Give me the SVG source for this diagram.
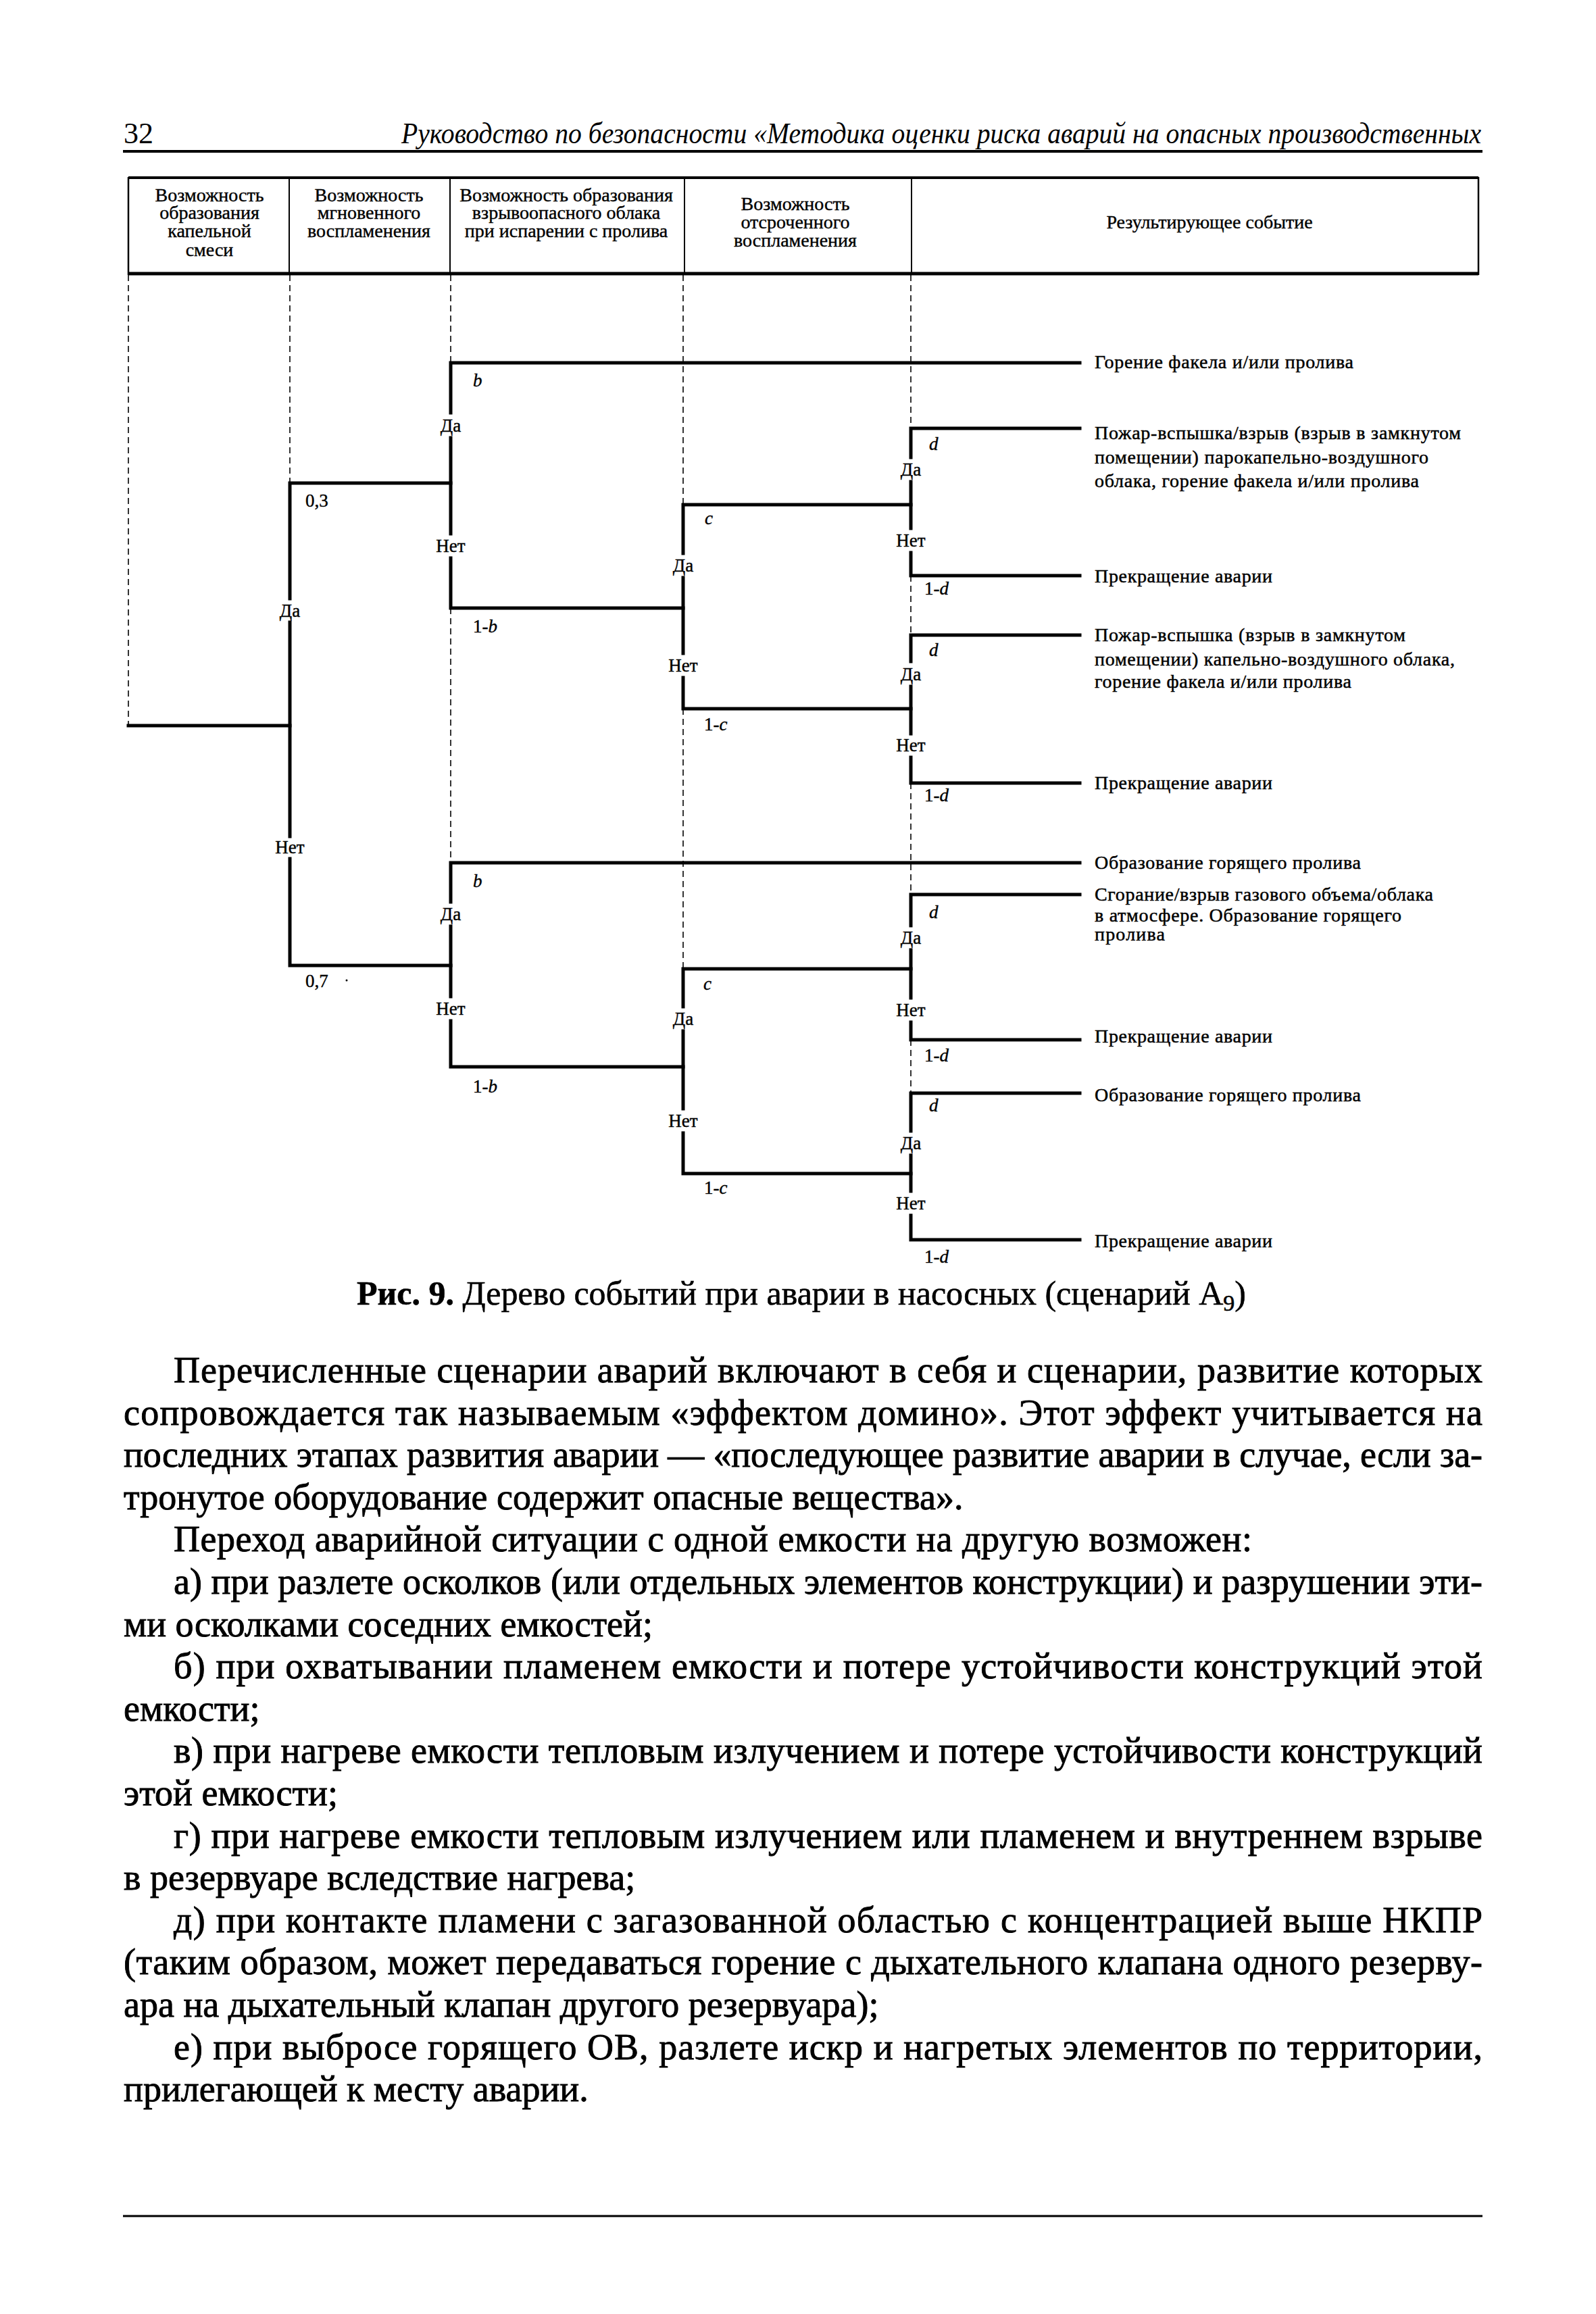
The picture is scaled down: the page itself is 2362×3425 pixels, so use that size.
<svg xmlns="http://www.w3.org/2000/svg" width="2362" height="3425" viewBox="0 0 2362 3425">
<style>
text{font-family:"Liberation Serif","DejaVu Serif",serif;fill:#000}
.hdr{font-size:44px}
.th{font-size:28px;text-anchor:middle;stroke:#000;stroke-width:0.4}
.lbl{font-size:27px;text-anchor:middle;stroke:#000;stroke-width:0.4}
.prob{font-size:27px;stroke:#000;stroke-width:0.4}
.it{font-style:italic}
.out{font-size:28px;stroke:#000;stroke-width:0.5}
.body{font-size:54px;stroke:#000;stroke-width:0.9}
.solid{fill:none;stroke:#000;stroke-width:5;stroke-linejoin:miter;stroke-linecap:square}
.dash{fill:none;stroke:#000;stroke-width:1.6;stroke-dasharray:9 6}
.tb{stroke:#000;fill:none}
</style>
<rect width="2362" height="3425" fill="#fff"/>

<g id="page-header">
<text class="hdr" x="183" y="212">32</text>
<text class="hdr it" x="594" y="212" textLength="1598" lengthAdjust="spacingAndGlyphs">Руководство по безопасности «Методика оценки риска аварий на опасных производственных</text>
<line x1="182" y1="224" x2="2194" y2="224" stroke="#000" stroke-width="4"/>
</g>

<g id="table-header">
<line class="tb" x1="190" y1="263" x2="2188" y2="263" stroke-width="4"/>
<line class="tb" x1="190" y1="405" x2="2188" y2="405" stroke-width="5"/>
<line class="tb" x1="190" y1="262" x2="190" y2="407" stroke-width="2.5"/>
<line class="tb" x1="2188" y1="262" x2="2188" y2="407" stroke-width="2.5"/>
<line class="tb" x1="428" y1="262" x2="428" y2="407" stroke-width="2"/>
<line class="tb" x1="666" y1="262" x2="666" y2="407" stroke-width="2"/>
<line class="tb" x1="1013" y1="262" x2="1013" y2="407" stroke-width="2"/>
<line class="tb" x1="1349" y1="262" x2="1349" y2="407" stroke-width="2"/>
<g id="col1"><text class="th" x="310" y="298">Возможность</text><text class="th" x="310" y="324">образования</text><text class="th" x="310" y="351">капельной</text><text class="th" x="310" y="379">смеси</text></g>
<g id="col2"><text class="th" x="546" y="298">Возможность</text><text class="th" x="546" y="324">мгновенного</text><text class="th" x="546" y="351">воспламенения</text></g>
<g id="col3"><text class="th" x="838" y="298">Возможность образования</text><text class="th" x="838" y="324">взрывоопасного облака</text><text class="th" x="838" y="351">при испарении с пролива</text></g>
<g id="col4"><text class="th" x="1177" y="311">Возможность</text><text class="th" x="1177" y="338">отсроченного</text><text class="th" x="1177" y="365">воспламенения</text></g>
<g id="col5"><text class="th" x="1790" y="338">Результирующее событие</text></g>
</g>

<g id="guides">
<line class="dash" x1="190" y1="407" x2="190" y2="1074"/>
<line class="dash" x1="429" y1="407" x2="429" y2="715"/>
<line class="dash" x1="667" y1="407" x2="667" y2="537"/>
<line class="dash" x1="667" y1="900" x2="667" y2="1277"/>
<line class="dash" x1="1011" y1="407" x2="1011" y2="747"/>
<line class="dash" x1="1011" y1="1049" x2="1011" y2="1434"/>
<line class="dash" x1="1348" y1="407" x2="1348" y2="634"/>
<line class="dash" x1="1348" y1="852" x2="1348" y2="940"/>
<line class="dash" x1="1348" y1="1159" x2="1348" y2="1324"/>
<line class="dash" x1="1348" y1="1539" x2="1348" y2="1618"/>
</g>

<g id="connectors">
<path class="solid" d="M190,1074 H429"/>
<path class="solid" d="M667,715 H429 V886 M429,921 V1238 M429,1271 V1429 H667"/>
<path class="solid" d="M1598,537 H667 V611 M667,648 V790 M667,826 V900 H1011"/>
<path class="solid" d="M1348,747 H1011 V819 M1011,855 V967 M1011,1003 V1049 H1348"/>
<path class="solid" d="M1598,634 H1348 V677 M1348,713 V782 M1348,818 V852 H1598"/>
<path class="solid" d="M1598,940 H1348 V979 M1348,1016 V1086 M1348,1121 V1159 H1598"/>
<path class="solid" d="M1598,1277 H667 V1335 M667,1371 V1475 M667,1511 V1579 H1011"/>
<path class="solid" d="M1348,1434 H1011 V1490 M1011,1526 V1641 M1011,1677 V1737 H1348"/>
<path class="solid" d="M1598,1324 H1348 V1370 M1348,1406 V1477 M1348,1513 V1539 H1598"/>
<path class="solid" d="M1598,1618 H1348 V1674 M1348,1710 V1763 M1348,1799 V1835 H1598"/>
<circle cx="513" cy="1451" r="1.5" fill="#000"/>
</g>

<g id="branch-labels">
<text class="lbl" x="429" y="913">Да</text><text class="lbl" x="429" y="1263">Нет</text>
<text class="lbl" x="667" y="639">Да</text><text class="lbl" x="667" y="817">Нет</text>
<text class="lbl" x="667" y="1362">Да</text><text class="lbl" x="667" y="1502">Нет</text>
<text class="lbl" x="1011" y="846">Да</text><text class="lbl" x="1011" y="994">Нет</text>
<text class="lbl" x="1011" y="1517">Да</text><text class="lbl" x="1011" y="1668">Нет</text>
<text class="lbl" x="1348" y="704">Да</text><text class="lbl" x="1348" y="809">Нет</text>
<text class="lbl" x="1348" y="1007">Да</text><text class="lbl" x="1348" y="1112">Нет</text>
<text class="lbl" x="1348" y="1397">Да</text><text class="lbl" x="1348" y="1504">Нет</text>
<text class="lbl" x="1348" y="1701">Да</text><text class="lbl" x="1348" y="1790">Нет</text>
</g>

<g id="probabilities">
<text class="prob" x="452" y="750">0,3</text>
<text class="prob" x="452" y="1461">0,7</text>
<text class="prob it" x="700" y="572">b</text>
<text class="prob" x="700" y="936">1-<tspan class="it">b</tspan></text>
<text class="prob it" x="700" y="1313">b</text>
<text class="prob" x="700" y="1617">1-<tspan class="it">b</tspan></text>
<text class="prob it" x="1043" y="776">c</text>
<text class="prob" x="1042" y="1081">1-<tspan class="it">c</tspan></text>
<text class="prob it" x="1041" y="1465">c</text>
<text class="prob" x="1042" y="1767">1-<tspan class="it">c</tspan></text>
<text class="prob it" x="1375" y="666">d</text>
<text class="prob" x="1368" y="880">1-<tspan class="it">d</tspan></text>
<text class="prob it" x="1375" y="971">d</text>
<text class="prob" x="1368" y="1186">1-<tspan class="it">d</tspan></text>
<text class="prob it" x="1375" y="1359">d</text>
<text class="prob" x="1368" y="1571">1-<tspan class="it">d</tspan></text>
<text class="prob it" x="1375" y="1645">d</text>
<text class="prob" x="1368" y="1869">1-<tspan class="it">d</tspan></text>
</g>

<g id="outcome-1"><text class="out" x="1620" y="545" textLength="383">Горение факела и/или пролива</text></g>
<g id="outcome-2">
<text class="out" x="1620" y="650" textLength="542">Пожар-вспышка/взрыв (взрыв в замкнутом</text>
<text class="out" x="1620" y="686" textLength="494">помещении) парокапельно-воздушного</text>
<text class="out" x="1620" y="721" textLength="480">облака, горение факела и/или пролива</text>
</g>
<g id="outcome-3"><text class="out" x="1620" y="862" textLength="263">Прекращение аварии</text></g>
<g id="outcome-4">
<text class="out" x="1620" y="949" textLength="460">Пожар-вспышка (взрыв в замкнутом</text>
<text class="out" x="1620" y="985" textLength="533">помещении) капельно-воздушного облака,</text>
<text class="out" x="1620" y="1018" textLength="380">горение факела и/или пролива</text>
</g>
<g id="outcome-5"><text class="out" x="1620" y="1168" textLength="263">Прекращение аварии</text></g>
<g id="outcome-6"><text class="out" x="1620" y="1286" textLength="394">Образование горящего пролива</text></g>
<g id="outcome-7">
<text class="out" x="1620" y="1333" textLength="501">Сгорание/взрыв газового объема/облака</text>
<text class="out" x="1620" y="1364" textLength="454">в атмосфере. Образование горящего</text>
<text class="out" x="1620" y="1392" textLength="104">пролива</text>
</g>
<g id="outcome-8"><text class="out" x="1620" y="1543" textLength="263">Прекращение аварии</text></g>
<g id="outcome-9"><text class="out" x="1620" y="1630" textLength="394">Образование горящего пролива</text></g>
<g id="outcome-10"><text class="out" x="1620" y="1846" textLength="263">Прекращение аварии</text></g>

<g id="caption">
<text x="528" y="1931" font-size="50" stroke="#000" stroke-width="0.6"><tspan font-weight="bold">Рис. 9.</tspan> Дерево событий при аварии в насосных (сценарий А<tspan font-size="34" dy="9">9</tspan><tspan dy="-9">)</tspan></text>
</g>

<g id="body-text">
<text class="body" x="257" y="2046" textLength="1937" lengthAdjust="spacing">Перечисленные сценарии аварий включают в себя и сценарии, развитие которых</text>
<text class="body" x="183" y="2109" textLength="2011" lengthAdjust="spacing">сопровождается так называемым «эффектом домино». Этот эффект учитывается на</text>
<text class="body" x="183" y="2171" textLength="2011" lengthAdjust="spacing">последних этапах развития аварии — «последующее развитие аварии в случае, если за-</text>
<text class="body" x="183" y="2234">тронутое оборудование содержит опасные вещества».</text>
<text class="body" x="257" y="2296" textLength="1596" lengthAdjust="spacing">Переход аварийной ситуации с одной емкости на другую возможен:</text>
<text class="body" x="257" y="2359" textLength="1937" lengthAdjust="spacing">а) при разлете осколков (или отдельных элементов конструкции) и разрушении эти-</text>
<text class="body" x="183" y="2422">ми осколками соседних емкостей;</text>
<text class="body" x="257" y="2484" textLength="1937" lengthAdjust="spacing">б) при охватывании пламенем емкости и потере устойчивости конструкций этой</text>
<text class="body" x="183" y="2547">емкости;</text>
<text class="body" x="257" y="2609" textLength="1937" lengthAdjust="spacing">в) при нагреве емкости тепловым излучением и потере устойчивости конструкций</text>
<text class="body" x="183" y="2672">этой емкости;</text>
<text class="body" x="257" y="2735" textLength="1937" lengthAdjust="spacing">г) при нагреве емкости тепловым излучением или пламенем и внутреннем взрыве</text>
<text class="body" x="183" y="2797">в резервуаре вследствие нагрева;</text>
<text class="body" x="257" y="2860" textLength="1937" lengthAdjust="spacing">д) при контакте пламени с загазованной областью с концентрацией выше НКПР</text>
<text class="body" x="183" y="2922" textLength="2011" lengthAdjust="spacing">(таким образом, может передаваться горение с дыхательного клапана одного резерву-</text>
<text class="body" x="183" y="2985">ара на дыхательный клапан другого резервуара);</text>
<text class="body" x="257" y="3048" textLength="1937" lengthAdjust="spacing">е) при выбросе горящего ОВ, разлете искр и нагретых элементов по территории,</text>
<text class="body" x="183" y="3110">прилегающей к месту аварии.</text>
</g>

<line id="footer-rule" x1="182" y1="3280" x2="2194" y2="3280" stroke="#000" stroke-width="3"/>
</svg>
